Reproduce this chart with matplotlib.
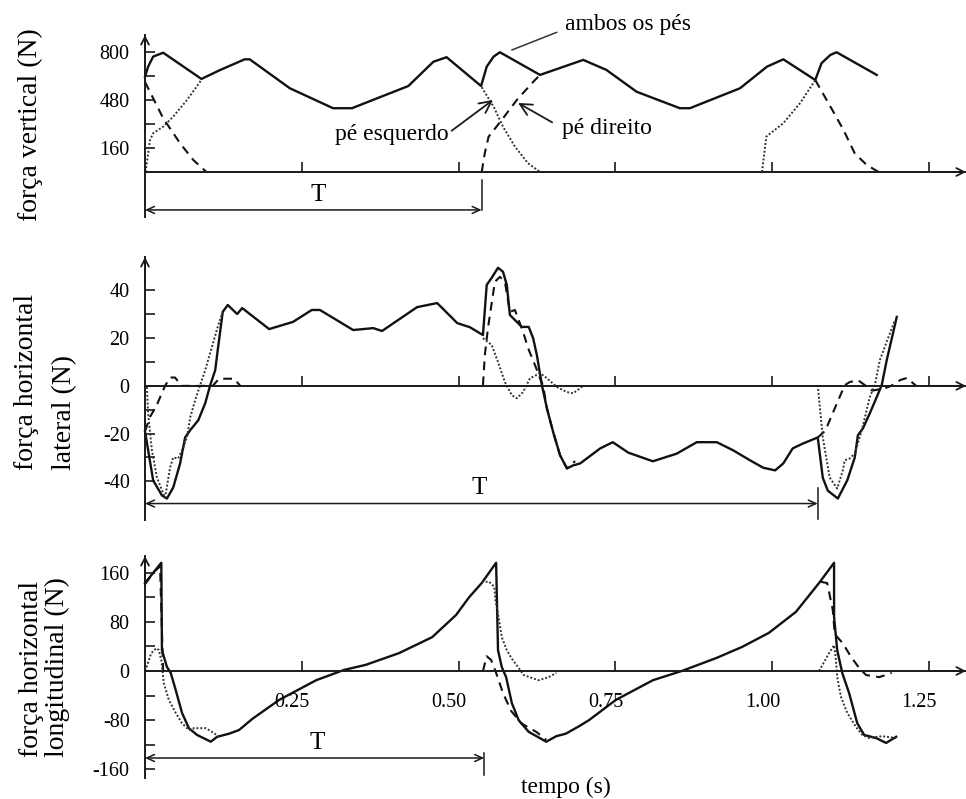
import matplotlib
matplotlib.use("Agg")
import matplotlib.pyplot as plt

plt.rcParams["font.family"] = ["Liberation Serif", "DejaVu Serif"]

# ---------------- data ----------------
x_ticks = [0.25, 0.50, 0.75, 1.00, 1.25]
x_tick_labels = ["0.25", "0.50", "0.75", "1.00", "1.25"]

# vertical force (N)
vert_sum_t = [0.000, 0.005, 0.013, 0.029, 0.090, 0.120, 0.159, 0.167, 0.231, 0.300,
              0.330, 0.420, 0.460, 0.481, 0.536, 0.545, 0.556, 0.566, 0.630, 0.699,
              0.736, 0.784, 0.853, 0.869, 0.949, 0.992, 1.018, 1.069, 1.079, 1.093,
              1.103, 1.167]
vert_sum_f = [635, 702, 769, 795, 620, 680, 751, 751, 558, 425,
              425, 573, 735, 765, 573, 702, 769, 798, 647, 747,
              680, 535, 425, 425, 558, 702, 751, 613, 725, 780,
              798, 647]
vert_dir1_t = [0.000, 0.029, 0.056, 0.077, 0.098]
vert_dir1_f = [600, 358, 191, 80, 0]
vert_dir2_t = [0.537, 0.542, 0.548, 0.569, 0.593, 0.619, 0.630]
vert_dir2_f = [0, 127, 235, 347, 480, 600, 647]
vert_dir3_t = [1.069, 1.098, 1.114, 1.132, 1.151, 1.170]
vert_dir3_f = [613, 400, 280, 124, 47, 0]
vert_esq1_t = [0.001, 0.008, 0.013, 0.029, 0.045, 0.067, 0.088, 0.090]
vert_esq1_f = [0, 213, 258, 302, 369, 480, 602, 620]
vert_esq2_t = [0.537, 0.556, 0.571, 0.590, 0.611, 0.630]
vert_esq2_f = [565, 435, 302, 169, 58, 0]
vert_esq3_t = [0.984, 0.991, 1.018, 1.045, 1.069]
vert_esq3_f = [0, 236, 325, 460, 613]

# lateral horizontal force (N)
lat_sum_t = [0.000, 0.013, 0.027, 0.035, 0.045, 0.056, 0.064, 0.072, 0.085, 0.096,
             0.104, 0.112, 0.116, 0.124, 0.132, 0.147, 0.155, 0.198, 0.236, 0.266,
             0.279, 0.332, 0.364, 0.378, 0.434, 0.466, 0.498, 0.518, 0.539, 0.545,
             0.553, 0.563, 0.571, 0.577, 0.582, 0.601, 0.612, 0.619, 0.625, 0.633,
             0.641, 0.651, 0.662, 0.673, 0.683, 0.694, 0.726, 0.746, 0.771, 0.810,
             0.848, 0.880, 0.912, 0.938, 0.965, 0.986, 1.005, 1.018, 1.033, 1.049,
             1.073, 1.081, 1.089, 1.105, 1.120, 1.132, 1.137, 1.145, 1.156, 1.167,
             1.175, 1.183, 1.199]
lat_sum_f = [-19, -39.6, -45.9, -47.2, -42.6, -32.5, -21.6, -18.6, -14.4, -7.3,
             0.3, 6.6, 15, 31, 33.9, 30.1, 32.6, 23.8, 26.8, 31.8,
             31.8, 23.4, 24.2, 23, 33, 34.7, 26.3, 24.6, 21.3, 42.3,
             45.3, 49.5, 47.8, 42.3, 29.7, 24.7, 24.7, 20, 12.9, 0.3,
             -9.4, -19.4, -29.1, -34.6, -33.3, -32.5, -26.2, -23.6, -28, -31.6,
             -28.4, -23.6, -23.6, -27, -31.2, -34.3, -35.4, -32.5, -26.2, -24.2,
             -21.6, -38.5, -43.9, -47.2, -39.6, -30, -20.7, -17.8, -11.5, -4.7,
             0.3, 10.8, 28.9]
lat_dir1_t = [0.000, 0.008, 0.018, 0.027, 0.032, 0.040, 0.048, 0.058, 0.108, 0.118, 0.142, 0.152]
lat_dir1_f = [-19, -13, -8.5, -3, 0, 3.5, 3.5, 0, 0, 3, 3, 0]
lat_dir2_t = [0.539, 0.542, 0.547, 0.558, 0.566, 0.574, 0.582, 0.590, 0.603, 0.611,
              0.622, 0.630, 0.635, 0.641, 0.651, 0.662, 0.673, 0.686]
lat_dir2_f = [0.3, 12.9, 24.2, 43.6, 45.7, 43.6, 31, 31.8, 22.6, 15.8,
              8.7, 3.2, 0, -9.4, -19.4, -29.1, -34.6, -31.5]
lat_dir3_t = [1.073, 1.085, 1.100, 1.116, 1.124, 1.137, 1.144, 1.160, 1.180, 1.190, 1.205, 1.215, 1.230]
lat_dir3_f = [-21.6, -18.8, -9.5, 0.3, 1.6, 2.4, 1.1, -2, -1, 0, 2.5, 3.3, 0]
lat_esq1_t = [0.003, 0.005, 0.011, 0.019, 0.032, 0.040, 0.045, 0.053, 0.061, 0.067,
              0.072, 0.080, 0.088, 0.096, 0.116, 0.124]
lat_esq1_f = [-0.5, -11.5, -27, -38.4, -46.9, -34.2, -30, -30.4, -25.8, -21.5,
              -13.3, -6, 0.3, 6.6, 24.7, 31]
lat_esq2_t = [0.539, 0.553, 0.563, 0.574, 0.585, 0.593, 0.603, 0.614, 0.630, 0.641,
              0.657, 0.673, 0.683, 0.694, 0.699]
lat_esq2_f = [20, 17.1, 10, 1.6, -3.9, -5.2, -2.6, 3.2, 5.3, 3.2,
              -0.5, -2.6, -3.1, -1, 0.3]
lat_esq3_t = [1.073, 1.081, 1.092, 1.104, 1.113, 1.116, 1.124, 1.132, 1.137, 1.144,
              1.156, 1.164, 1.172, 1.196]
lat_esq3_f = [0.3, -21.6, -38.4, -43, -35.4, -31.2, -30.4, -28.3, -24, -17.8,
              -4.7, 0.3, 10.8, 27.6]

# longitudinal horizontal force (N)
lon_sum_t = [0.000, 0.026, 0.027, 0.035, 0.041, 0.049, 0.059, 0.070, 0.083, 0.105,
             0.115, 0.134, 0.150, 0.171, 0.214, 0.273, 0.317, 0.352, 0.405, 0.458,
             0.496, 0.517, 0.537, 0.560, 0.563, 0.569, 0.576, 0.585, 0.596, 0.612,
             0.640, 0.656, 0.671, 0.692, 0.708, 0.751, 0.810, 0.856, 0.911, 0.952,
             0.995, 1.038, 1.075, 1.099, 1.099, 1.104, 1.112, 1.123, 1.136, 1.147,
             1.166, 1.182, 1.198]
lon_sum_f = [143, 176, 34, 6.5, -3, -31, -68, -93, -104, -115,
             -107, -102, -96, -78, -47, -15, 1.6, 10, 29, 55,
             91, 120, 143, 176, 34, 6.5, -10, -52, -80, -99,
             -115, -106, -102, -90, -80, -47, -15, 0, 21, 39,
             62, 96, 143, 176, 88, 34, -3, -36, -85, -104,
             -109, -117, -107]
lon_dir1_t = [0.000, 0.014, 0.024, 0.026, 0.029]
lon_dir1_f = [141, 161, 170, 100, 0]
lon_dir2_t = [0.539, 0.545, 0.552, 0.560, 0.571, 0.584, 0.600, 0.624, 0.640]
lon_dir2_f = [0, 24, 18, -3, -36, -65, -85, -99, -112]
lon_dir3_t = [1.078, 1.088, 1.097, 1.100, 1.113, 1.126, 1.139, 1.150, 1.171, 1.191]
lon_dir3_f = [145, 143, 99, 60, 45, 23, 5, -6.5, -10, -3]
lon_esq1_t = [0.000, 0.002, 0.010, 0.018, 0.022, 0.026, 0.030, 0.038, 0.049, 0.059,
              0.070, 0.078, 0.097, 0.110, 0.118]
lon_esq1_f = [0, 5, 29, 37, 34, 18, -20, -47, -68, -85,
              -96, -93, -93, -101, -107]
lon_esq2_t = [0.537, 0.549, 0.557, 0.559, 0.565, 0.569, 0.577, 0.585, 0.596, 0.604,
              0.616, 0.628, 0.644, 0.656]
lon_esq2_f = [145, 145, 137, 115, 81, 55, 34, 20, 5, -6.5,
              -11, -15, -10, -3]
lon_esq3_t = [1.075, 1.091, 1.099, 1.102, 1.104, 1.110, 1.120, 1.134, 1.144, 1.155, 1.175, 1.198]
lon_esq3_f = [0, 29, 42, 18, -10, -42, -68, -91, -104, -109, -106, -109]

# ---------------- figure ----------------
W, H = 966, 799
fig = plt.figure(figsize=(W / 100, H / 100), dpi=100)
X_MAX = 821 / 627
AXC = "#1a1a1a"
INK = "#111111"


def box(top, bottom):
    return [145 / W, 1 - bottom / H, 821 / W, (bottom - top) / H]


def setup(ax, ylim, major, labels, minor):
    ax.set_xlim(0, X_MAX)
    ax.set_ylim(*ylim)
    ax.patch.set_visible(False)
    for s in ("top", "right"):
        ax.spines[s].set_visible(False)
    for s in ("left", "bottom"):
        ax.spines[s].set_position(("data", 0))
        ax.spines[s].set_linewidth(1.4)
        ax.spines[s].set_color(AXC)
    ax.set_xticks(x_ticks)
    ax.set_xticklabels([])
    ax.set_yticks(major)
    ax.set_yticklabels(labels)
    ax.set_yticks(minor, minor=True)
    ax.tick_params(axis="both", which="both", direction="in", length=7.5,
                   width=1.2, color=AXC)
    ax.tick_params(axis="y", labelsize=14.5, pad=11)
    head = "->,head_length=0.55,head_width=0.28"
    ax.annotate("", xy=(0, 1), xytext=(0, 0.9), xycoords="axes fraction",
                arrowprops=dict(arrowstyle=head, lw=1.3, color=AXC,
                                shrinkA=0, shrinkB=0))
    ax.annotate("", xy=(1, 0), xytext=(0.96, 0), xycoords=ax.get_yaxis_transform(),
                arrowprops=dict(arrowstyle=head, lw=1.3, color=AXC,
                                shrinkA=0, shrinkB=0))


def curves(ax, total, right, left):
    ax.plot(*total, color=INK, lw=1.7, solid_joinstyle="round", clip_on=False)
    for seg in right:
        ax.plot(*seg, color=INK, lw=1.5, linestyle=(0, (4.2, 3.0)), clip_on=False)
    for seg in left:
        ax.plot(*seg, color="#333333", lw=1.4, linestyle=(0, (1.0, 1.0)), clip_on=False)


def period(ax, t_end, y_arrow, bar_lo, bar_hi, t_label, y_label):
    ax.annotate("", xy=(0, y_arrow), xytext=(t_end, y_arrow),
                arrowprops=dict(arrowstyle="<->,head_length=0.55,head_width=0.25",
                                lw=1.1, color=AXC, shrinkA=0, shrinkB=0),
                annotation_clip=False)
    ax.plot([t_end, t_end], [bar_lo, bar_hi], color=AXC, lw=1.1, clip_on=False)
    ax.text(t_label, y_label, "T", fontsize=18, ha="center", va="center")


# --- vertical force ---
ax1 = fig.add_axes(box(35, 217))
setup(ax1, (-300, 913), [160, 480, 800], ["160", "480", "800"], [320, 640])
curves(ax1, (vert_sum_t, vert_sum_f),
       [(vert_dir1_t, vert_dir1_f), (vert_dir2_t, vert_dir2_f), (vert_dir3_t, vert_dir3_f)],
       [(vert_esq1_t, vert_esq1_f), (vert_esq2_t, vert_esq2_f), (vert_esq3_t, vert_esq3_f)])
period(ax1, 0.537, -253, -53, -253, 0.276, -153)

ax1.annotate("pé esquerdo", xy=(0.555, 480), xytext=(0.394, 247), fontsize=17,
             ha="center", va="center",
             arrowprops=dict(arrowstyle="->,head_length=0.5,head_width=0.25",
                             lw=1.3, color=AXC, shrinkA=42, shrinkB=0,
                             relpos=(1.0, 0.6)))
ax1.annotate("pé direito", xy=(0.595, 460), xytext=(0.737, 293), fontsize=17,
             ha="center", va="center",
             arrowprops=dict(arrowstyle="->,head_length=0.5,head_width=0.25",
                             lw=1.3, color=AXC, shrinkA=6, shrinkB=0,
                             relpos=(0.0, 0.5)))
ax1.annotate("ambos os pés", xy=(0.585, 813), xytext=(0.770, 980), fontsize=17,
             ha="center", va="center", annotation_clip=False,
             arrowprops=dict(arrowstyle="-", lw=1.1, color="#333333",
                             shrinkA=4, shrinkB=0, relpos=(0.0, 0.3)))

# --- lateral force ---
ax2 = fig.add_axes(box(257, 520))
setup(ax2, (-56.2, 54), [-40, -20, 0, 20, 40], ["-40", "-20", "0", "20", "40"],
      [-30, -10, 10, 30])
curves(ax2, (lat_sum_t, lat_sum_f),
       [(lat_dir1_t, lat_dir1_f), (lat_dir2_t, lat_dir2_f), (lat_dir3_t, lat_dir3_f)],
       [(lat_esq1_t, lat_esq1_f), (lat_esq2_t, lat_esq2_f), (lat_esq3_t, lat_esq3_f)])
period(ax2, 1.073, -49.3, -42.6, -55.6, 0.533, -43)

# --- longitudinal force ---
ax3 = fig.add_axes(box(556, 778))
setup(ax3, (-174, 187), [-160, -80, 0, 80, 160], ["-160", "-80", "0", "80", "160"],
      [-120, -40, 40, 120])
curves(ax3, (lon_sum_t, lon_sum_f),
       [(lon_dir1_t, lon_dir1_f), (lon_dir2_t, lon_dir2_f), (lon_dir3_t, lon_dir3_f)],
       [(lon_esq1_t, lon_esq1_f), (lon_esq2_t, lon_esq2_f), (lon_esq3_t, lon_esq3_f)])
period(ax3, 0.541, -141.5, -133, -169, 0.274, -117)
for t, s in zip(x_ticks, x_tick_labels):
    ax3.text(t - 0.015, -52, s, fontsize=14.5, ha="center", va="center")

# --- axis titles ---
fig.text(30 / W, 1 - 125 / H, "força vertical (N)", rotation=90, fontsize=20,
         ha="center", va="center")
fig.text(27 / W, 1 - 470 / H, "força horizontal", rotation=90, fontsize=20,
         ha="center", va="bottom")
fig.text(65 / W, 1 - 470 / H, "lateral (N)", rotation=90, fontsize=20,
         ha="center", va="bottom")
fig.text(31 / W, 1 - 757 / H, "força horizontal", rotation=90, fontsize=20,
         ha="center", va="bottom")
fig.text(57 / W, 1 - 757 / H, "longitudinal (N)", rotation=90, fontsize=20,
         ha="center", va="bottom")
fig.text(566 / W, 1 - 787 / H, "tempo (s)", fontsize=17, ha="center", va="center")

fig.savefig("out.png", dpi=100)
